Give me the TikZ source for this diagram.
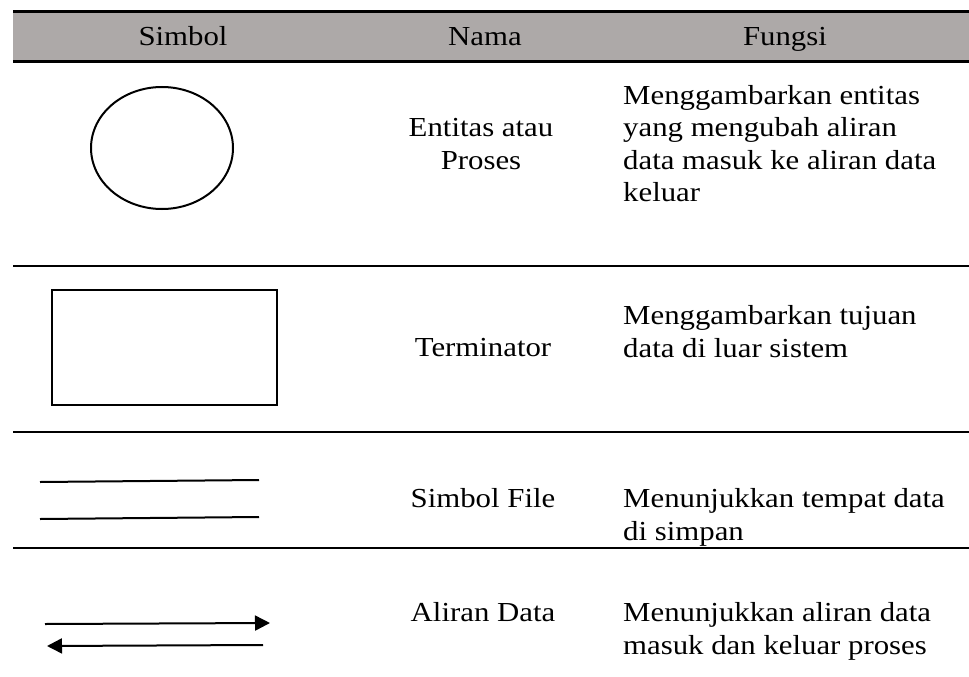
\documentclass[tikz,border=0pt]{standalone}
\usepackage{fontspec}
\setmainfont{Liberation Serif}[FakeStretch=1.12]
\usepackage{tikz}
\usetikzlibrary{shapes.geometric, arrows.meta}

\definecolor{headgray}{RGB}{173,169,168}

\tikzset{
    rule/.style={line width=2pt},
    headrule/.style={line width=3pt},
    symbolline/.style={line width=2pt},
    cell/.style={inner sep=0pt, font=\fontsize{27.5}{32.5}\selectfont},
    namecell/.style={cell, align=center, anchor=base},
    fungsicell/.style={cell, align=left, anchor=base west},
    flowtip/.style={-{Triangle[length=15pt, width=15pt]}}
}

\begin{document}
\begin{tikzpicture}[x=1pt, y=-1pt]

        \useasboundingbox (0,0) rectangle (969,677);

        % header
        \fill[headgray] (13,12) rectangle (969,62);
        \draw[headrule] (13,12) -- (969,12);
        \draw[headrule] (13,62) -- (969,62);

        \node[cell, anchor=base] (hsimbol) at (183,46) {Simbol};
        \node[cell, anchor=base] (hnama) at (485,46) {Nama};
        \node[cell, anchor=base] (hfungsi) at (785,46) {Fungsi};

        % row lines
        \draw[rule]
            (13,266) -- (969,266)
            (13,432) -- (969,432)
            (13,548) -- (969,548);

        % entitas atau proses (base = last line)
        \node[draw, ellipse, symbolline, minimum width=142pt, minimum height=122pt]
            (proses) at (162,148) {};
        \node[namecell] (nproses) at (481,169) {Entitas atau\\Proses};
        \node[fungsicell] (fproses) at (623,201.5)
            {Menggambarkan entitas\\yang mengubah aliran\\data masuk ke aliran data\\keluar};

        % terminator
        \node[draw, rectangle, symbolline, minimum width=225pt, minimum height=115pt]
            (terminator) at (164.5,347.5) {};
        \node[namecell] (nterminator) at (483,356) {Terminator};
        \node[fungsicell] (fterminator) at (623,357)
            {Menggambarkan tujuan\\data di luar sistem};

        % simbol file
        \draw[symbolline]
            (40,482) -- (259,480)
            (40,519) -- (259,517);
        \node[namecell] (nfile) at (483,507) {Simbol File};
        \node[fungsicell] (ffile) at (623,540)
            {Menunjukkan tempat data\\di simpan};

        % aliran data
        \draw[symbolline, flowtip] (45,624) -- (270,623);
        \draw[symbolline, flowtip] (263,645) -- (47,646);
        \node[namecell] (naliran) at (483,621) {Aliran Data};
        \node[fungsicell] (faliran) at (623,654)
            {Menunjukkan aliran data\\masuk dan keluar proses};

\end{tikzpicture}
\end{document}
